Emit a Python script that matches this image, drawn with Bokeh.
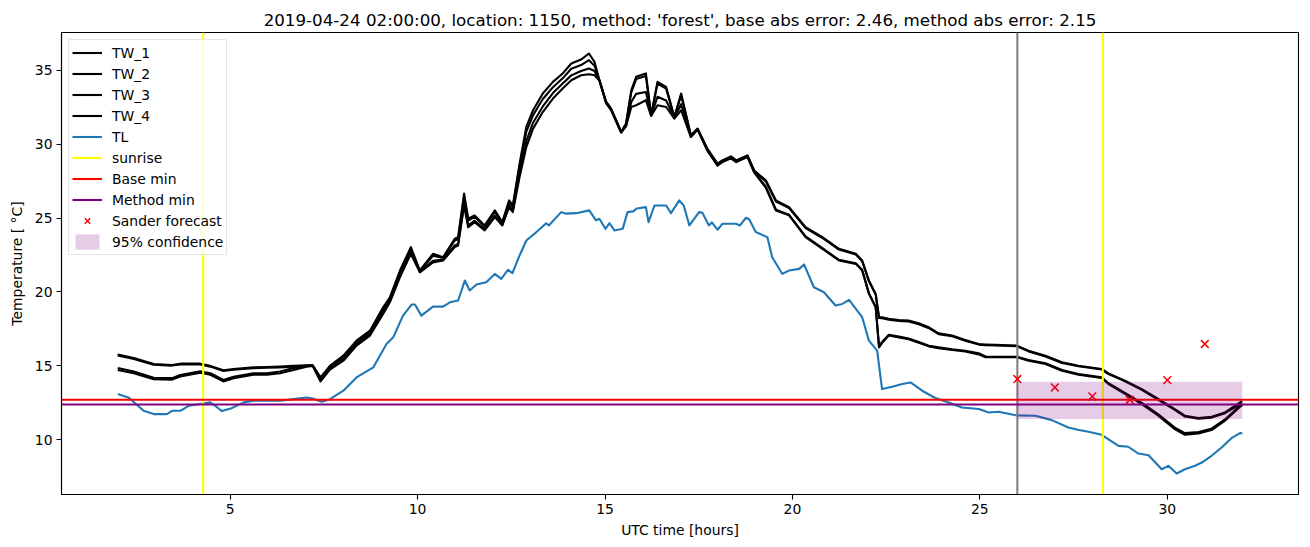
from bokeh.plotting import figure
from bokeh.models import Legend, LegendItem, FixedTicker, Range1d
from bokeh.embed import file_html
from bokeh.resources import INLINE

# ---------------- data ----------------
tw_hours = [2.0, 2.43, 2.96, 3.45, 3.67, 4.2, 4.47, 4.82, 5.09, 5.62, 5.98, 6.33, 6.69, 7.04, 7.2, 7.41,
            7.66, 8.02, 8.37, 8.73, 9.08, 9.26, 9.53, 9.82, 10.06, 10.41, 10.68, 10.99, 11.08, 11.24,
            11.35, 11.52, 11.79, 12.06, 12.26, 12.44, 12.54, 12.72, 12.9, 13.08, 13.34, 13.61, 13.87,
            14.1, 14.36, 14.57, 14.72, 14.85, 15.03, 15.16, 15.43, 15.56, 15.7, 15.83, 16.09, 16.23,
            16.4, 16.63, 16.85, 17.03, 17.29, 17.47, 17.73, 18.0, 18.13, 18.36, 18.5, 18.8, 18.98,
            19.29, 19.56, 19.91, 20.35, 20.8, 21.24, 21.69, 21.86, 22.04, 22.22, 22.31, 22.39, 22.57,
            22.84, 23.1, 23.37, 23.64, 23.9, 24.26, 24.61, 24.97, 25.15, 25.41, 25.99, 26.3, 26.75,
            27.19, 27.63, 28.25, 28.43, 28.87, 29.32, 29.76, 30.2, 30.47, 30.83, 31.18, 31.54, 31.94, 32.0]

tw_1 = [15.76, 15.53, 15.13, 15.06, 15.15, 15.15, 15.00, 14.70, 14.79, 14.90, 14.92, 14.95, 15.00, 15.04, 15.04, 14.22,
        15.00, 15.69, 16.71, 17.38, 18.96, 19.64, 21.45, 23.03, 21.45, 22.58, 22.35, 23.60, 23.70, 26.65,
        24.95, 25.18, 24.50, 25.52, 24.72, 26.19, 25.85, 28.68, 31.16, 32.29, 33.42, 34.21, 34.78,
        35.45, 35.72, 36.13, 35.56, 34.32, 32.85, 32.40, 30.82, 31.39, 33.64, 34.55, 34.78, 31.95,
        34.21, 33.87, 31.84, 33.42, 30.60, 31.05, 29.69, 28.68, 28.90, 29.17, 28.90, 29.24, 28.22,
        27.55, 26.19, 25.74, 24.38, 23.71, 22.92, 22.58, 22.13, 20.77, 19.87, 18.29, 18.29, 18.18,
        18.10, 18.06, 17.88, 17.61, 17.20, 17.05, 16.75, 16.48, 16.45, 16.42, 16.37, 16.03, 15.69,
        15.24, 15.01, 14.79, 14.49, 14.00, 13.43, 12.76, 12.08, 11.63, 11.47, 11.56, 11.85, 12.53, 12.60]

tw_2 = [15.70, 15.47, 15.08, 15.02, 15.10, 15.10, 14.95, 14.65, 14.74, 14.85, 14.87, 14.90, 14.95, 15.00, 15.02, 14.15,
        14.95, 15.62, 16.62, 17.30, 18.85, 19.55, 21.35, 22.90, 21.42, 22.45, 22.30, 23.48, 23.58, 26.45,
        24.82, 25.08, 24.42, 25.42, 24.68, 26.08, 25.75, 28.45, 30.85, 31.95, 33.05, 33.85, 34.45,
        35.10, 35.35, 35.68, 35.30, 34.32, 32.85, 32.40, 30.82, 31.35, 33.50, 34.40, 34.60, 31.95,
        34.10, 33.75, 31.82, 33.30, 30.58, 31.02, 29.65, 28.65, 28.87, 29.14, 28.87, 29.21, 28.18,
        27.48, 26.12, 25.68, 24.32, 23.65, 22.87, 22.53, 22.08, 20.72, 19.82, 18.24, 18.22, 18.12,
        18.04, 18.00, 17.82, 17.55, 17.15, 17.00, 16.70, 16.44, 16.40, 16.38, 16.33, 15.98, 15.64,
        15.20, 14.97, 14.75, 14.44, 13.95, 13.38, 12.70, 12.02, 11.57, 11.42, 11.50, 11.80, 12.40, 12.45]

tw_3 = [14.86, 14.62, 14.20, 14.17, 14.38, 14.64, 14.50, 14.05, 14.27, 14.50, 14.50, 14.62, 14.85, 15.00, 15.04, 14.10,
        14.85, 15.45, 16.47, 17.15, 18.62, 19.40, 21.10, 22.70, 21.38, 22.10, 22.20, 23.15, 23.25, 26.00,
        24.50, 24.82, 24.25, 25.16, 24.55, 25.85, 25.50, 28.00, 30.20, 31.45, 32.55, 33.45, 34.10,
        34.65, 34.95, 35.12, 34.95, 34.32, 32.80, 32.35, 30.80, 31.25, 32.85, 33.40, 33.53, 31.95,
        33.20, 32.95, 31.78, 32.70, 30.52, 31.00, 29.60, 28.60, 28.82, 29.08, 28.82, 29.16, 28.12,
        27.12, 25.56, 25.22, 23.76, 22.96, 22.17, 21.94, 21.50, 19.92, 19.00, 16.30, 16.62, 17.10,
        16.98, 16.85, 16.62, 16.36, 16.25, 16.12, 16.02, 15.85, 15.63, 15.62, 15.62, 15.40, 15.18,
        14.72, 14.45, 14.22, 13.83, 13.17, 12.50, 11.72, 10.82, 10.45, 10.52, 10.75, 11.38, 12.32, 12.40]

tw_4 = [14.72, 14.50, 14.10, 14.07, 14.28, 14.54, 14.40, 13.95, 14.17, 14.40, 14.40, 14.50, 14.72, 14.95, 15.00, 13.95,
        14.75, 15.35, 16.37, 17.05, 18.52, 19.30, 21.00, 22.58, 21.33, 22.00, 22.13, 23.03, 23.14, 25.85,
        24.38, 24.72, 24.16, 25.06, 24.50, 25.74, 25.40, 27.77, 29.80, 31.05, 32.17, 33.08, 33.76,
        34.32, 34.66, 34.73, 34.66, 34.30, 32.75, 32.30, 30.78, 31.20, 32.51, 32.63, 32.97, 31.90,
        32.63, 32.51, 31.73, 32.29, 30.48, 30.98, 29.55, 28.55, 28.78, 29.04, 28.78, 29.12, 28.08,
        27.05, 25.51, 25.18, 23.71, 22.92, 22.13, 21.90, 21.45, 19.87, 18.96, 16.25, 16.55, 17.05,
        16.93, 16.80, 16.57, 16.32, 16.20, 16.07, 15.97, 15.78, 15.58, 15.58, 15.58, 15.35, 15.13,
        14.67, 14.40, 14.18, 13.77, 13.10, 12.42, 11.63, 10.72, 10.34, 10.43, 10.66, 11.29, 12.24, 12.35]

tl_hours = [2.0, 2.2, 2.3, 2.69, 2.96, 3.31, 3.45, 3.67, 3.89, 4.2, 4.47, 4.6, 4.78, 5.04, 5.36, 5.62, 6.33,
            6.69, 7.04, 7.2, 7.44, 7.66, 8.02, 8.37, 8.82, 9.17, 9.35, 9.61, 9.84, 9.93, 10.1, 10.41,
            10.68, 10.86, 11.08, 11.26, 11.39, 11.57, 11.83, 12.06, 12.23, 12.41, 12.53, 12.72, 12.9,
            13.17, 13.43, 13.5, 13.83, 13.95, 14.23, 14.58, 14.76, 14.85, 15.01, 15.12, 15.25, 15.47,
            15.6, 15.75, 15.85, 16.09, 16.16, 16.32, 16.63, 16.76, 16.98, 17.1, 17.25, 17.51, 17.6,
            17.77, 17.85, 18.0, 18.13, 18.49, 18.6, 18.76, 18.85, 19.02, 19.33, 19.46, 19.73, 19.91,
            20.18, 20.31, 20.57, 20.84, 21.15, 21.33, 21.51, 21.86, 22.04, 22.26, 22.39, 22.66, 22.93,
            23.15, 23.46, 23.81, 24.17, 24.52, 24.97, 25.24, 25.5, 25.99, 26.48, 26.92, 27.36, 27.64,
            27.9, 28.25, 28.7, 28.96, 29.23, 29.5, 29.85, 30.03, 30.25, 30.47, 30.74, 30.92, 31.18,
            31.45, 31.71, 31.94, 32.0]

tl = [13.10, 12.93, 12.85, 11.96, 11.74, 11.74, 11.96, 11.96, 12.30, 12.42, 12.53, 12.30, 11.94, 12.14, 12.53, 12.64, 12.64,
      12.75, 12.86, 12.79, 12.57, 12.75, 13.32, 14.22, 14.90, 16.48, 16.93, 18.40, 19.15, 19.15, 18.40, 19.01,
      19.01, 19.30, 19.42, 20.77, 20.10, 20.50, 20.66, 21.22, 20.88, 21.50, 21.27, 22.47, 23.48,
      24.05, 24.65, 24.50, 25.40, 25.30, 25.33, 25.52, 24.84, 24.95, 24.27, 24.65, 24.16, 24.27,
      25.40, 25.45, 25.65, 25.74, 24.72, 25.85, 25.85, 25.33, 26.19, 25.85, 24.50, 25.40, 25.35,
      24.50, 24.70, 24.21, 24.61, 24.61, 24.50, 25.02, 24.90, 24.05, 23.71, 22.35, 21.22, 21.45,
      21.56, 21.86, 20.32, 19.98, 19.08, 19.19, 19.46, 18.29, 16.71, 16.03, 13.43, 13.59, 13.77,
      13.88, 13.32, 12.83, 12.53, 12.19, 12.08, 11.85, 11.90, 11.65, 11.63, 11.33, 10.83, 10.66,
      10.54, 10.34, 9.59, 9.53, 9.07, 8.96, 8.01, 8.24, 7.72, 8.01, 8.24, 8.46, 8.92,
      9.48, 10.11, 10.45, 10.45]

sunrise_hours = [4.28, 28.28]
now_hour = [26.0]
base_min = [12.71]
method_min = [12.39]
forecast_hours = [26, 27, 28, 29, 30, 31]
forecast_temp = [14.11, 13.54, 12.93, 12.71, 14.04, 16.48]
conf_hours = [26, 32]
conf_low = [11.40, 11.40]
conf_high = [13.93, 13.93]

x_ticks = [5, 10, 15, 20, 25, 30]
y_ticks = [10, 15, 20, 25, 30, 35]

title_text = "2019-04-24 02:00:00, location: 1150, method: 'forest', base abs error: 2.46, method abs error: 2.15"

# ---------------- figure ----------------
FONT = "DejaVu Sans"
LW = 2.1
XR = Range1d(0.5, 33.5)
YR = Range1d(6.30, 37.55)
p = figure(width=1310, height=547, output_backend="svg", toolbar_location=None,
           x_range=XR, y_range=YR,
           min_border_left=61, min_border_right=12, min_border_top=32, min_border_bottom=53)

p.background_fill_color = "white"
p.border_fill_color = "white"
p.outline_line_color = "black"
p.outline_line_width = 1.1
p.xgrid.visible = False
p.ygrid.visible = False

p.title.text = title_text
p.title.align = "center"
p.title.text_font = FONT
p.title.text_font_size = "16.7px"
p.title.text_font_style = "normal"
p.title.text_color = "black"
p.title.standoff = 6

for ax in (p.xaxis[0], p.yaxis[0]):
    ax.major_label_text_font = FONT
    ax.major_label_text_font_size = "13.9px"
    ax.major_label_text_color = "black"
    ax.axis_label_text_font = FONT
    ax.axis_label_text_font_size = "13.9px"
    ax.axis_label_text_font_style = "normal"
    ax.axis_label_text_color = "black"
    ax.axis_line_color = "black"
    ax.axis_line_width = 1.1
    ax.major_tick_line_color = "black"
    ax.major_tick_line_width = 1.1
    ax.major_tick_out = 5
    ax.major_tick_in = 0
    ax.minor_tick_out = 0
    ax.minor_tick_in = 0
    ax.major_label_standoff = 4

p.xaxis[0].ticker = FixedTicker(ticks=x_ticks)
p.yaxis[0].ticker = FixedTicker(ticks=y_ticks)
p.xaxis[0].axis_label = "UTC time [hours]"
p.yaxis[0].axis_label = "Temperature [ °C]"
p.xaxis[0].axis_label_standoff = 5
p.yaxis[0].axis_label_standoff = 7

# ---------------- glyphs ----------------
r_tw = []
for ys in (tw_1, tw_2, tw_3, tw_4):
    r_tw.append(p.line(tw_hours, ys, line_color="black", line_width=LW, line_join="round"))
r_tl = p.line(tl_hours, tl, line_color="#1f77b4", line_width=LW, line_join="round")

# vertical "now" line
p.segment(x0=now_hour, x1=now_hour, y0=[YR.start], y1=[YR.end], line_color="grey", line_width=LW)
# sunrise lines
r_sun = p.segment(x0=sunrise_hours, x1=sunrise_hours,
                  y0=[YR.start] * len(sunrise_hours), y1=[YR.end] * len(sunrise_hours),
                  line_color="yellow", line_width=LW)
# horizontal minima
r_base = p.segment(x0=[XR.start], x1=[XR.end], y0=base_min, y1=base_min, line_color="red", line_width=LW)
r_meth = p.segment(x0=[XR.start], x1=[XR.end], y0=method_min, y1=method_min, line_color="purple", line_width=LW)

r_fc = p.scatter(forecast_hours, forecast_temp, marker="x", size=11, line_color="red", line_width=1.5)

r_band = p.varea(x=conf_hours, y1=conf_low, y2=conf_high, fill_color="purple", fill_alpha=0.2)

items = [
    LegendItem(label="TW_1", renderers=[r_tw[0]]),
    LegendItem(label="TW_2", renderers=[r_tw[1]]),
    LegendItem(label="TW_3", renderers=[r_tw[2]]),
    LegendItem(label="TW_4", renderers=[r_tw[3]]),
    LegendItem(label="TL", renderers=[r_tl]),
    LegendItem(label="sunrise", renderers=[r_sun]),
    LegendItem(label="Base min", renderers=[r_base]),
    LegendItem(label="Method min", renderers=[r_meth]),
    LegendItem(label="Sander forecast", renderers=[r_fc]),
    LegendItem(label="95% confidence", renderers=[r_band]),
]
legend = Legend(items=items, location="top_left")
legend.margin = 7
legend.padding = 3
legend.spacing = 2
legend.label_height = 19
legend.glyph_height = 19
legend.glyph_width = 30
legend.label_standoff = 10
legend.label_text_font = FONT
legend.label_text_font_size = "13.9px"
legend.label_text_color = "black"
legend.border_line_color = "#cccccc"
legend.border_line_width = 1
legend.background_fill_color = "white"
legend.background_fill_alpha = 0.8
p.add_layout(legend, "center")

open("out.html", "w").write(file_html(p, INLINE))
